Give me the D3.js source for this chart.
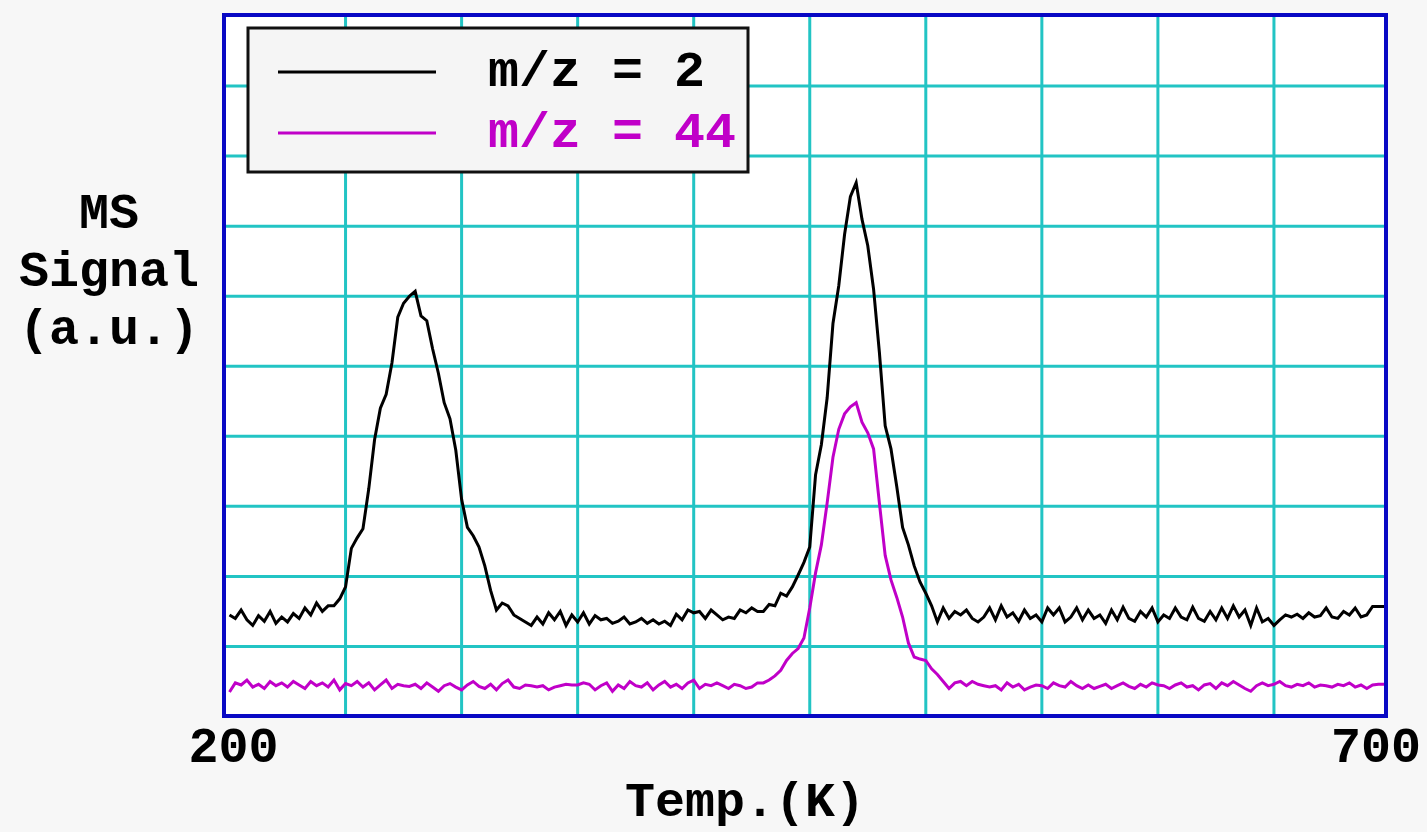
<!DOCTYPE html>
<html><head><meta charset="utf-8">
<script src="https://cdn.jsdelivr.net/npm/d3@7/dist/d3.min.js"></script>
<style>
html,body{margin:0;padding:0;background:#f7f7f7;}
svg{display:block;}
text{font-family:"Liberation Mono","DejaVu Sans Mono",monospace;font-weight:bold;}
</style></head>
<body>
<svg id="chart" width="1427" height="832"></svg>
<script>
// ---- data ----
const tStart = 200, tStep = 2.5;           // temperature sampling (K)
const xTickLabels = ["200", "700"];
const xTickValues = [200, 700];
const xAxisTitle = "Temp.(K)";
const yAxisTitle = ["MS", "Signal", "(a.u.)"];
const seriesNames = ["m/z = 2", "m/z = 44"];
const seriesColors = ["#000000", "#c000c8"];

const mz2 = [
1.45,1.40,1.52,1.38,1.30,1.44,1.36,1.50,1.33,1.42,
1.35,1.47,1.40,1.55,1.45,1.62,1.50,1.58,1.58,1.68,
1.85,2.40,2.55,2.68,3.25,3.95,4.40,4.60,5.05,5.70,
5.90,6.00,6.07,5.72,5.65,5.25,4.90,4.48,4.25,3.80,
3.10,2.70,2.58,2.42,2.15,1.80,1.52,1.62,1.58,1.45,
1.40,1.35,1.30,1.42,1.32,1.48,1.38,1.50,1.30,1.45,
1.35,1.48,1.32,1.44,1.38,1.40,1.33,1.36,1.42,1.32,
1.35,1.40,1.33,1.38,1.32,1.36,1.30,1.46,1.38,1.52,
1.48,1.50,1.40,1.52,1.45,1.38,1.42,1.40,1.52,1.48,
1.55,1.50,1.50,1.60,1.58,1.76,1.72,1.85,2.02,2.20,
2.42,3.45,3.88,4.55,5.61,6.15,6.88,7.42,7.62,7.10,
6.72,6.10,5.20,4.15,3.82,3.28,2.70,2.45,2.15,1.92,
1.76,1.58,1.35,1.55,1.40,1.50,1.45,1.52,1.40,1.35,
1.42,1.55,1.38,1.58,1.42,1.48,1.36,1.52,1.40,1.45,
1.35,1.55,1.45,1.55,1.35,1.42,1.55,1.38,1.52,1.40,
1.45,1.33,1.52,1.38,1.56,1.40,1.36,1.50,1.42,1.55,
1.35,1.45,1.40,1.55,1.42,1.38,1.56,1.40,1.36,1.50,
1.38,1.55,1.40,1.58,1.42,1.52,1.30,1.55,1.35,1.40,
1.30,1.38,1.45,1.42,1.46,1.40,1.48,1.42,1.44,1.55,
1.42,1.40,1.50,1.45,1.55,1.42,1.45,1.57,1.57,1.57,
1.57];

const mz44 = [
0.35,0.48,0.45,0.52,0.42,0.46,0.40,0.50,0.44,0.48,
0.42,0.50,0.45,0.40,0.50,0.44,0.48,0.42,0.52,0.38,
0.47,0.44,0.50,0.42,0.48,0.38,0.45,0.52,0.40,0.46,
0.44,0.43,0.46,0.40,0.48,0.42,0.36,0.44,0.47,0.42,
0.38,0.45,0.50,0.43,0.40,0.46,0.38,0.47,0.52,0.42,
0.40,0.45,0.44,0.42,0.44,0.38,0.42,0.44,0.46,0.45,
0.45,0.48,0.46,0.38,0.44,0.48,0.36,0.45,0.40,0.50,
0.44,0.42,0.48,0.38,0.45,0.50,0.42,0.46,0.40,0.48,
0.52,0.40,0.46,0.44,0.48,0.44,0.40,0.46,0.44,0.40,
0.42,0.48,0.48,0.52,0.58,0.66,0.80,0.90,0.97,1.12,
1.55,2.05,2.45,3.05,3.70,4.10,4.32,4.42,4.48,4.20,
4.05,3.82,3.05,2.30,1.95,1.70,1.42,1.05,0.85,0.82,
0.80,0.68,0.60,0.50,0.40,0.48,0.50,0.44,0.50,0.46,
0.44,0.42,0.44,0.38,0.48,0.42,0.46,0.38,0.42,0.45,
0.44,0.40,0.48,0.44,0.42,0.50,0.44,0.40,0.45,0.40,
0.43,0.46,0.40,0.44,0.48,0.43,0.40,0.46,0.42,0.48,
0.45,0.44,0.40,0.45,0.48,0.42,0.44,0.38,0.45,0.47,
0.40,0.48,0.44,0.50,0.45,0.40,0.36,0.44,0.48,0.44,
0.46,0.50,0.44,0.42,0.46,0.44,0.48,0.42,0.45,0.44,
0.42,0.46,0.44,0.48,0.42,0.45,0.40,0.45,0.46,0.46,
0.46];

const xGridValues = [250,300,350,400,450,500,550,600,650];
const yGridValues = [1,2,3,4,5,6,7,8,9];

// ---- drawing ----
const svg = d3.select("#chart");
const frame = {x0:224, x1:1386, y0:15, y1:716};
const x = d3.scaleLinear().domain([200,700]).range([229.5,1390]);
const y = d3.scaleLinear().domain([0,10]).range([716.5,16]);

svg.append("defs").append("clipPath").attr("id","clip")
  .append("rect").attr("x",frame.x0).attr("y",frame.y0)
  .attr("width",frame.x1-frame.x0).attr("height",frame.y1-frame.y0);

svg.append("rect").attr("x",frame.x0).attr("y",frame.y0)
  .attr("width",frame.x1-frame.x0).attr("height",frame.y1-frame.y0)
  .attr("fill","#ffffff");

const grid = svg.append("g").attr("clip-path","url(#clip)")
  .attr("stroke","#22c4c4").attr("stroke-width",3);
grid.selectAll("line.v").data(xGridValues).join("line").attr("class","v")
  .attr("x1",d=>x(d)).attr("x2",d=>x(d)).attr("y1",frame.y0).attr("y2",frame.y1);
grid.selectAll("line.h").data(yGridValues).join("line").attr("class","h")
  .attr("x1",frame.x0).attr("x2",frame.x1).attr("y1",d=>y(d)).attr("y2",d=>y(d));

const series = [mz2, mz44];
const line = d3.line().x((d,i)=>x(tStart+i*tStep)).y(d=>y(d));
const lines = svg.append("g").attr("clip-path","url(#clip)");
[1,0].forEach(k=>{
  lines.append("path").datum(series[k]).attr("d",line)
    .attr("fill","none").attr("stroke",seriesColors[k])
    .attr("stroke-width",3).attr("stroke-linejoin","miter");
});

svg.append("rect").attr("x",frame.x0).attr("y",frame.y0)
  .attr("width",frame.x1-frame.x0).attr("height",frame.y1-frame.y0)
  .attr("fill","none").attr("stroke","#0808c4").attr("stroke-width",4);

// legend
const lg = svg.append("g");
lg.append("rect").attr("x",248).attr("y",28).attr("width",500).attr("height",144)
  .attr("fill","#f5f5f5").attr("stroke","#111").attr("stroke-width",3);
seriesNames.forEach((name,i)=>{
  const yy = 72 + i*61;
  lg.append("line").attr("x1",278).attr("x2",436).attr("y1",yy).attr("y2",yy)
    .attr("stroke",seriesColors[i]).attr("stroke-width",3);
  lg.append("text").attr("x",488).attr("y",yy+14)
    .attr("font-size",50).attr("fill",seriesColors[i])
    .attr("textLength",name.length*31).attr("lengthAdjust","spacingAndGlyphs")
    .text(name);
});

// y axis title
yAxisTitle.forEach((t,i)=>{
  svg.append("text").attr("x",109).attr("y",228+i*58)
    .attr("text-anchor","middle").attr("font-size",50).attr("fill","#000")
    .attr("textLength",t.length*30).attr("lengthAdjust","spacingAndGlyphs")
    .text(t);
});

// x tick labels
const tickOffsets = [4,-14];
xTickValues.forEach((v,i)=>{
  svg.append("text").attr("x",x(v)+tickOffsets[i]).attr("y",762)
    .attr("text-anchor","middle").attr("font-size",50).attr("fill","#000")
    .attr("textLength",xTickLabels[i].length*30).attr("lengthAdjust","spacingAndGlyphs")
    .text(xTickLabels[i]);
});

svg.append("text").attr("x",745).attr("y",816)
  .attr("text-anchor","middle").attr("font-size",48).attr("fill","#000")
  .attr("textLength",xAxisTitle.length*30).attr("lengthAdjust","spacingAndGlyphs")
  .text(xAxisTitle);
</script>
</body></html>
